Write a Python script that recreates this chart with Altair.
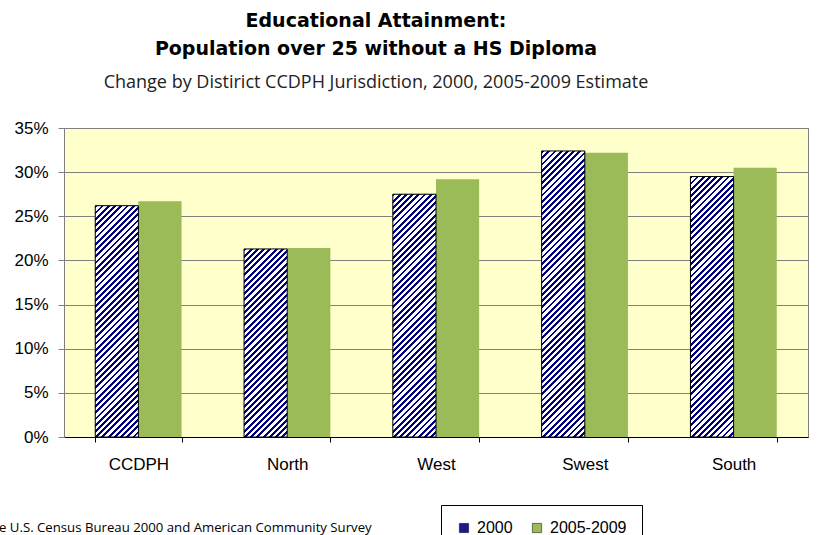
import altair as alt
import pandas as pd

categories = ["CCDPH", "North", "West", "Swest", "South"]
series = ["2000", "2005-2009"]
values_2000 = [0.262, 0.213, 0.275, 0.324, 0.295]
values_0509 = [0.267, 0.214, 0.292, 0.322, 0.305]

rows = []
for c, a, b in zip(categories, values_2000, values_0509):
    rows.append({"Category": c, "Series": series[0], "Value": a})
    rows.append({"Category": c, "Series": series[1], "Value": b})
df = pd.DataFrame(rows)

W, H = 744, 309
YMAX = 0.35
PAD_INNER = 0.42
step = W / len(categories)
bar_w = step * (1 - PAD_INNER) / 2


def hatch(value, period=6.2, navy_frac=0.45):
    w = bar_w
    h = value / YMAX * H
    d = w * w + h * h
    x2 = w * (w + h) / d
    y2 = h * (w + h) / d
    n = max(1, round((w + h) / period))
    stops = []
    for i in range(n):
        a = i / n
        b = (i + navy_frac) / n
        c = (i + 1) / n
        stops += [
            alt.GradientStop(offset=a, color="#000080"),
            alt.GradientStop(offset=b, color="#000080"),
            alt.GradientStop(offset=b, color="#FFFFFF"),
            alt.GradientStop(offset=c, color="#FFFFFF"),
        ]
    return alt.LinearGradient(gradient="linear", stops=stops, x1=0, y1=0, x2=x2, y2=y2)


x_enc = alt.X(
    "Category:N",
    sort=categories,
    title=None,
    scale=alt.Scale(paddingInner=PAD_INNER, paddingOuter=PAD_INNER / 2),
    axis=alt.Axis(
        labelAngle=0, labelFontSize=17, labelFont="Liberation Sans", labelColor="black",
        tickBand="extent", tickSize=5, tickColor="#000000", domainColor="#000000",
        labelPadding=14, grid=False,
    ),
)
xo_enc = alt.XOffset("Series:N", sort=series, scale=alt.Scale(paddingInner=0, paddingOuter=0))
y_enc = alt.Y(
    "Value:Q",
    title=None,
    scale=alt.Scale(domain=[0, YMAX], nice=False),
    axis=alt.Axis(
        format=".0%", values=[0, 0.05, 0.1, 0.15, 0.2, 0.25, 0.3, 0.35],
        labelFontSize=17, labelFont="Liberation Sans", labelColor="black",
        tickSize=6, tickColor="#808080", domainColor="#808080", labelPadding=10,
        gridColor="#808080", gridWidth=1,
    ),
)

base = alt.Chart(df).mark_bar().encode(
    x=x_enc,
    xOffset=xo_enc,
    y=y_enc,
    color=alt.Color(
        "Series:N",
        sort=series,
        scale=alt.Scale(domain=series, range=["#1A1A8C", "#9BBB59"]),
        legend=alt.Legend(
            title=None, orient="none", legendX=377, legendY=377, direction="horizontal",
            labelFontSize=16, labelFont="Liberation Sans", labelColor="black",
            symbolType="square", symbolSize=85, symbolStrokeColor="#000000",
            symbolStrokeWidth=0.5, strokeColor="#000000", fillColor="#FFFFFF",
            padding=15, columnPadding=16, labelOffset=5,
        ),
    ),
)

layers = [base]
for c, v in zip(categories, values_2000):
    layers.append(
        alt.Chart(df)
        .transform_filter((alt.datum.Series == series[0]) & (alt.datum.Category == c))
        .mark_bar(fill=hatch(v), stroke="#000000", strokeWidth=1)
        .encode(x=x_enc, xOffset=xo_enc, y=y_enc)
    )

source = alt.Chart(pd.DataFrame({"t": ["e U.S. Census Bureau 2000 and American Community Survey"]})).mark_text(
    align="left", baseline="alphabetic", font="Open Sans", fontSize=13.2, color="black"
).encode(text="t:N", x=alt.value(-65), y=alt.value(404))

chart = alt.layer(*layers, source).properties(
    width=W,
    height=H,
    title=alt.TitleParams(
        text=["Educational Attainment:", "Population over 25 without a HS Diploma"],
        subtitle="Change by Distirict CCDPH Jurisdiction, 2000, 2005-2009 Estimate",
        anchor="middle", dx=-60, offset=27,
        font="DejaVu Sans", fontSize=19, fontWeight="bold", lineHeight=28, color="black",
        subtitleFont="Open Sans", subtitleFontSize=18, subtitleColor="#222222", subtitlePadding=15,
    ),
    autosize=alt.AutoSizeParams(type="none"),
    padding={"left": 64, "top": 128, "right": 9, "bottom": 98},
).configure_view(fill="#FFFFCC", stroke="#808080", strokeWidth=1)

chart.save("out.html", embed_options={"renderer": "svg", "actions": False})
